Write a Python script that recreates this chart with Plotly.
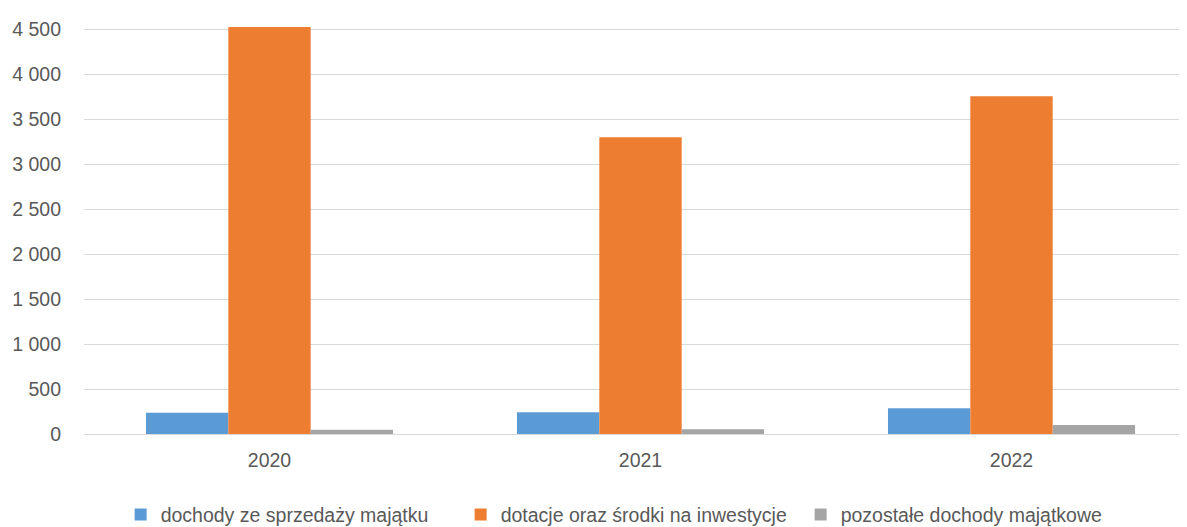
import plotly.graph_objects as go

years = ["2020", "2021", "2022"]
sprzedaz = [236, 241, 285]
dotacje = [4521, 3297, 3752]
pozostale = [48, 52, 100]

names = ["dochody ze sprzedaży majątku", "dotacje oraz środki na inwestycje", "pozostałe dochody majątkowe"]
colors = ["#5B9BD5", "#ED7D31", "#A5A5A5"]
series = [sprzedaz, dotacje, pozostale]

FONT = "Liberation Sans, Arial, sans-serif"
FS = 19.5
TXT = "#595959"

fig = go.Figure()
for n, c, s in zip(names, colors, series):
    fig.add_trace(go.Bar(x=years, y=s, name=n, marker=dict(color=c, line=dict(width=0))))

fig.update_layout(
    width=1187, height=527,
    barmode="group", bargap=0.334, bargroupgap=0,
    plot_bgcolor="white", paper_bgcolor="white",
    separators=", ",
    font=dict(family=FONT, size=FS, color=TXT),
    margin=dict(l=76, r=8, t=12, b=101, autoexpand=False),
    showlegend=True,
    legend=dict(orientation="h", x=0.4956, xanchor="center", xref="paper",
                y=-0.195, yanchor="middle", font=dict(size=FS, color=TXT),
                entrywidth=295, entrywidthmode="pixels",
                itemwidth=30, traceorder="normal", borderwidth=0),
    xaxis=dict(range=[-0.5, 2.473], showgrid=False, zeroline=False, showline=False,
               automargin=False,
               ticks="", ticklabelstandoff=12, tickfont=dict(size=FS, color=TXT)),
    yaxis=dict(range=[0, 4600], tickvals=[0, 500, 1000, 1500, 2000, 2500, 3000, 3500, 4000, 4500],
               tickformat=",d", showgrid=True, gridcolor="#D9D9D9", gridwidth=1.3,
               zeroline=True, zerolinecolor="#D9D9D9", zerolinewidth=1.3,
               automargin=False,
               showline=False, ticks="", ticklabelstandoff=22,
               tickfont=dict(size=FS, color=TXT)),
)
fig.write_html("out.html")
